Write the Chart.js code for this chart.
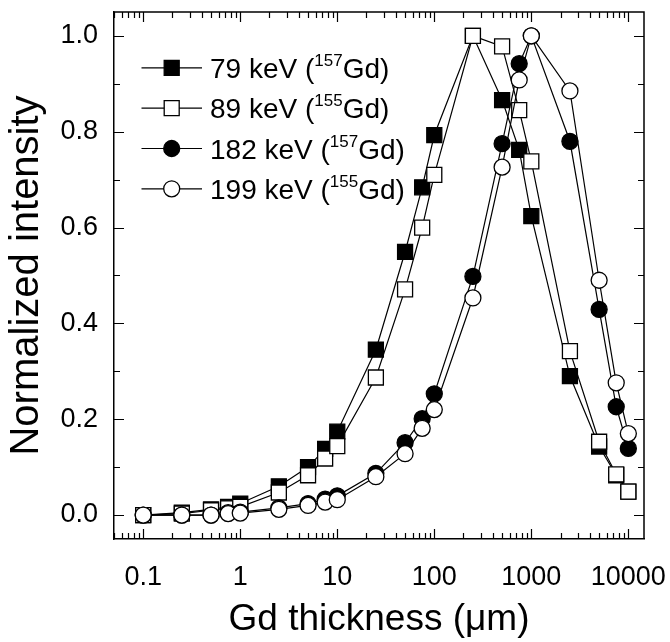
<!DOCTYPE html>
<html>
<head>
<meta charset="utf-8">
<script src="https://cdn.jsdelivr.net/npm/chart.js@4.4.0/dist/chart.umd.min.js"></script>
<style>
  html, body { margin: 0; padding: 0; background: #fff; }
  canvas { display: block; }
</style>
</head>
<body>
<canvas id="chart" width="670" height="642"></canvas>
<script>
// Gd foil thickness (µm) at which each line intensity was measured
const thicknessUm = [0.1, 0.25, 0.5, 0.75, 1, 2.5, 5, 7.5, 10, 25, 50, 75, 100, 250, 500, 750, 1000, 2500, 5000, 7500, 10000];

// Normalized intensities per gamma line
const gd157_79keV  = [0.000, 0.005, 0.012, 0.017, 0.024, 0.060, 0.100, 0.138, 0.174, 0.345, 0.549, 0.684, 0.793, 1.000, 0.866, 0.762, 0.624, 0.290, 0.143, 0.083, 0.049];
const gd155_89keV  = [0.000, 0.003, 0.010, 0.014, 0.017, 0.047, 0.083, 0.118, 0.144, 0.287, 0.471, 0.600, 0.710, 1.000, 0.978, 0.845, 0.738, 0.342, 0.153, 0.085, 0.049];
const gd157_182keV = [0.000, 0.000, 0.000, 0.005, 0.006, 0.015, 0.024, 0.033, 0.040, 0.087, 0.151, 0.201, 0.253, 0.498, 0.775, 0.942, 1.000, 0.780, 0.429, 0.226, 0.139];
const gd155_199keV = [0.000, 0.000, 0.000, 0.003, 0.004, 0.012, 0.020, 0.027, 0.032, 0.080, 0.128, 0.181, 0.220, 0.453, 0.726, 0.908, 1.000, 0.885, 0.490, 0.276, 0.170];

// Legend text: energy and isotope mass number
const seriesLabels = ['79 keV', '89 keV', '182 keV', '199 keV'];
const isotopeMass  = ['157', '155', '157', '155'];

// Labelled tick values
const xTickValues = [0.1, 1, 10, 100, 1000, 10000];
const yTickValues = [0.0, 0.2, 0.4, 0.6, 0.8, 1.0];

const FONT = '"Liberation Sans", Arial, Helvetica, sans-serif';

const seriesValues = [gd157_79keV, gd155_89keV, gd157_182keV, gd155_199keV];
const markerStyles = [
  { style: 'rect',   fill: '#000000', radius: 10.6 },
  { style: 'rect',   fill: '#ffffff', radius: 10.6 },
  { style: 'circle', fill: '#000000', radius: 8 },
  { style: 'circle', fill: '#ffffff', radius: 8 }
];

const datasets = seriesValues.map((vals, i) => ({
  label: seriesLabels[i] + ' (' + isotopeMass[i] + 'Gd)',
  data: thicknessUm.map((t, j) => ({ x: t, y: vals[j] })),
  borderColor: '#000',
  borderWidth: 1.2,
  backgroundColor: markerStyles[i].fill,
  pointStyle: markerStyles[i].style,
  pointRadius: markerStyles[i].radius,
  pointHoverRadius: markerStyles[i].radius,
  pointBackgroundColor: markerStyles[i].fill,
  pointBorderColor: '#000',
  pointBorderWidth: 1.3,
  tension: 0,
  fill: false,
  order: seriesValues.length - i   // later series sit on top
}));

// Keep the plot box fixed: no extra room reserved for overhanging labels
const noLabelPadding = s => {
  s.paddingLeft = 0; s.paddingRight = 0; s.paddingTop = 0; s.paddingBottom = 0;
};

// Closed frame with inward major/minor tick marks on all four sides
const frameTicks = {
  id: 'frameTicks',
  afterDraw(chart) {
    const { ctx, chartArea: a, scales: { x, y } } = chart;
    ctx.save();
    ctx.strokeStyle = '#000';
    ctx.lineWidth = 1.5;
    ctx.beginPath();
    ctx.moveTo(a.left, a.top);
    ctx.lineTo(a.right, a.top);
    ctx.lineTo(a.right, a.bottom);
    ctx.stroke();

    ctx.lineWidth = 1.2;
    ctx.beginPath();
    for (let e = -2; e <= 4; e++) {
      for (let m = 1; m <= 9; m++) {
        const v = m * Math.pow(10, e);
        if (v < x.min || v > x.max) continue;
        const px = Math.round(x.getPixelForValue(v)) + 0.5;
        const len = m === 1 ? 10 : 6;
        ctx.moveTo(px, a.bottom); ctx.lineTo(px, a.bottom - len);
        ctx.moveTo(px, a.top);    ctx.lineTo(px, a.top + len);
      }
    }
    for (let k = 0; k <= 10; k++) {
      const py = Math.round(y.getPixelForValue(k / 10)) + 0.5;
      const len = k % 2 === 0 ? 10 : 6;
      ctx.moveTo(a.left, py);  ctx.lineTo(a.left + len, py);
      ctx.moveTo(a.right, py); ctx.lineTo(a.right - len, py);
    }
    ctx.stroke();
    ctx.restore();
  }
};

// Legend with line-through-marker samples and superscript mass numbers
const isotopeLegend = {
  id: 'isotopeLegend',
  afterDraw(chart) {
    const { ctx, chartArea: a } = chart;
    ctx.save();
    seriesLabels.forEach((lab, i) => {
      const cy = a.top + 56 + i * 40.3;
      const x0 = a.left + 27.5, x1 = a.left + 88, mx = a.left + 57.7;
      ctx.strokeStyle = '#000';
      ctx.lineWidth = 1.2;
      ctx.beginPath(); ctx.moveTo(x0, cy); ctx.lineTo(x1, cy); ctx.stroke();
      const ms = markerStyles[i];
      ctx.fillStyle = ms.fill;
      ctx.lineWidth = 1.3;
      ctx.beginPath();
      if (ms.style === 'rect') {
        const h = ms.radius * Math.SQRT1_2;
        ctx.rect(mx - h, cy - h, 2 * h, 2 * h);
      } else {
        ctx.arc(mx, cy, ms.radius, 0, Math.PI * 2);
      }
      ctx.fill(); ctx.stroke();

      ctx.fillStyle = '#000';
      ctx.textBaseline = 'alphabetic';
      ctx.textAlign = 'left';
      const base = cy + 10;
      let tx = a.left + 96;
      ctx.font = '28px ' + FONT;
      const head = lab + ' (';
      ctx.fillText(head, tx, base);
      tx += ctx.measureText(head).width;
      ctx.font = '17px ' + FONT;
      ctx.fillText(isotopeMass[i], tx, base - 12);
      tx += ctx.measureText(isotopeMass[i]).width;
      ctx.font = '28px ' + FONT;
      ctx.fillText('Gd)', tx, base);
    });
    ctx.restore();
  }
};

new Chart(document.getElementById('chart'), {
  type: 'line',
  data: { datasets },
  options: {
    responsive: false,
    animation: false,
    devicePixelRatio: 1,
    layout: { padding: { top: 9, right: 26, left: 0, bottom: 0 } },
    plugins: { legend: { display: false }, tooltip: { enabled: false } },
    scales: {
      x: {
        type: 'logarithmic',
        position: 'bottom',
        min: 0.05,
        max: 14500,
        grid: { display: false, drawTicks: false },
        border: { display: true, color: '#000', width: 1.5 },
        afterBuildTicks: s => { s.ticks = xTickValues.map(v => ({ value: v })); },
        afterFit: s => { s.height = 103; noLabelPadding(s); },
        ticks: {
          color: '#000',
          font: { family: FONT, size: 27 },
          padding: 22,
          maxRotation: 0,
          autoSkip: false,
          callback: v => String(v)
        },
        title: {
          display: true,
          text: 'Gd thickness (\u03bcm)',
          color: '#000',
          font: { family: FONT, size: 37 },
          padding: { top: 0, bottom: 0 }
        }
      },
      y: {
        type: 'linear',
        min: -0.05,
        max: 1.05,
        grid: { display: false, drawTicks: false },
        border: { display: true, color: '#000', width: 1.5 },
        afterBuildTicks: s => { s.ticks = yTickValues.map(v => ({ value: v })); },
        afterFit: s => { s.width = 114; noLabelPadding(s); },
        ticks: {
          color: '#000',
          font: { family: FONT, size: 27 },
          padding: 16,
          callback: v => Number(v).toFixed(1)
        },
        title: {
          display: true,
          text: 'Normalized intensity',
          color: '#000',
          font: { family: FONT, size: 40 },
          padding: { top: 3, bottom: 0 }
        }
      }
    }
  },
  plugins: [frameTicks, isotopeLegend]
});
</script>
</body>
</html>
